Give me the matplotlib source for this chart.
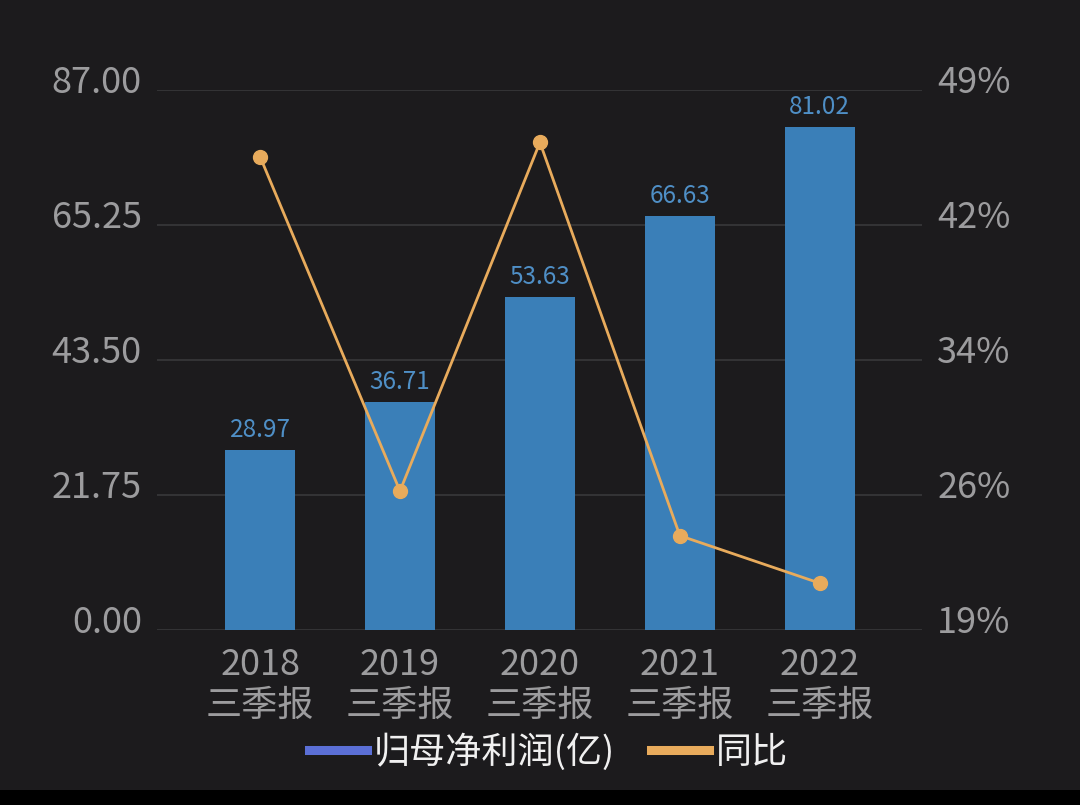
import matplotlib
matplotlib.use("Agg")
import matplotlib.pyplot as plt
import matplotlib.transforms as mtransforms
from matplotlib.lines import Line2D

plt.rcParams['font.family'] = ['Noto Sans CJK SC', 'DejaVu Sans']

years = ["2018", "2019", "2020", "2021", "2022"]
period = "三季报"
profit = [28.97, 36.71, 53.63, 66.63, 81.02]
yoy = [45.3, 26.72, 46.09, 24.24, 21.60]
left_ticks = [0, 21.75, 43.5, 65.25, 87.0]
right_ticks = [19, 26.5, 34, 41.5, 49]
right_labels = ["19%", "26%", "34%", "42%", "49%"]

bg = '#1c1b1d'
bar_color = '#3a7fb8'
line_color = '#e8ab5c'
tick_color = '#9c9c9e'
grid_color = '#38383a'

fig = plt.figure(figsize=(10.8, 8.05), dpi=100, facecolor=bg)
# black strip at the bottom
fig.patches.append(plt.Rectangle((0, 0), 1, 0.019, transform=fig.transFigure,
                                 facecolor='#000000', zorder=0))
ax = fig.add_axes([0.1454, 0.2174, 0.7083, 0.6708], facecolor=bg)
x = list(range(len(years)))

ax.bar(x, profit, width=0.5, color=bar_color, zorder=2)
for xi, v in zip(x, profit):
    ax.annotate(f"{v:.2f}", (xi, v), xytext=(0, 5), textcoords='offset points',
                ha='center', va='bottom', color='#4f8fc6', fontsize=17.5)

ax.set_xlim(-0.736, 4.73)
ax.set_ylim(0, 87)
ax.set_yticks(left_ticks)
ax.set_yticklabels([f"{t:.2f}" for t in left_ticks])
ax.yaxis.grid(True, color=grid_color, linewidth=1.2, zorder=0)
ax.set_axisbelow(True)
ax.set_xticks(x)
ax.set_xticklabels([f"{y}\n{period}" for y in years], linespacing=1.2)
ax.tick_params(axis='both', length=0, colors=tick_color, labelsize=26)
ax.tick_params(axis='y', pad=11)
ax.tick_params(axis='x', pad=12)
for s in ax.spines.values():
    s.set_visible(False)

ax2 = ax.twinx()
ax2.plot(x, yoy, color=line_color, linewidth=2, marker='o', markersize=10, zorder=3)
ax2.set_ylim(19, 49)
ax2.set_yticks(right_ticks)
ax2.set_yticklabels(right_labels)
ax2.tick_params(axis='y', length=0, colors=tick_color, labelsize=26, pad=11)
for s in ax2.spines.values():
    s.set_visible(False)

# lift y tick labels a little above their gridlines
shift = mtransforms.ScaledTranslation(0, 8 / 72, fig.dpi_scale_trans)
for lab in ax.get_yticklabels() + ax2.get_yticklabels():
    lab.set_transform(lab.get_transform() + shift)

handles = [Line2D([0], [0], color='#5b6fd6', linewidth=6.5),
           Line2D([0], [0], color=line_color, linewidth=6.5)]
fig.legend(handles, ["归母净利润(亿)", "同比"], loc='center', bbox_to_anchor=(0.508, 0.066),
           ncol=2, frameon=False, fontsize=26, labelcolor='#f0f0f0',
           handlelength=1.6, handletextpad=0.2, columnspacing=1.0)

fig.savefig("out.png", dpi=100, facecolor=bg)
